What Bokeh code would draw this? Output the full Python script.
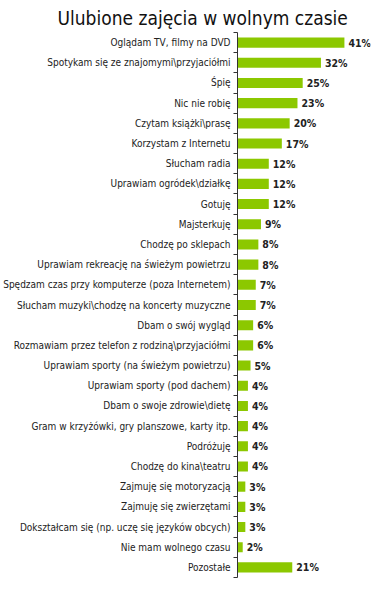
from bokeh.plotting import figure
from bokeh.models import ColumnDataSource, FixedTicker, Range1d
from bokeh.core.properties import value
from bokeh.embed import file_html
from bokeh.resources import INLINE

categories = [
    "Oglądam TV, filmy na DVD",
    "Spotykam się ze znajomymi\\przyjaciółmi",
    "Śpię",
    "Nic nie robię",
    "Czytam książki\\prasę",
    "Korzystam z Internetu",
    "Słucham radia",
    "Uprawiam ogródek\\działkę",
    "Gotuję",
    "Majsterkuję",
    "Chodzę po sklepach",
    "Uprawiam rekreację na świeżym powietrzu",
    "Spędzam czas przy komputerze (poza Internetem)",
    "Słucham muzyki\\chodzę na koncerty muzyczne",
    "Dbam o swój wygląd",
    "Rozmawiam przez telefon z rodziną\\przyjaciółmi",
    "Uprawiam sporty (na świeżym powietrzu)",
    "Uprawiam sporty (pod dachem)",
    "Dbam o swoje zdrowie\\dietę",
    "Gram w krzyżówki, gry planszowe, karty itp.",
    "Podróżuję",
    "Chodzę do kina\\teatru",
    "Zajmuję się motoryzacją",
    "Zajmuję się zwierzętami",
    "Dokształcam się (np. uczę się języków obcych)",
    "Nie mam wolnego czasu",
    "Pozostałe",
]
values = [41, 32, 25, 23, 20, 17, 12, 12, 12, 9, 8, 8, 7, 7, 6, 6, 5, 4, 4, 4, 4, 4, 3, 3, 3, 2, 21]

n = len(categories)
pos = list(range(n))
labels = [f"{v}%" for v in values]

FONT = "DejaVu Sans Condensed"

src = ColumnDataSource(dict(y=pos, v=values, lab=labels))

p = figure(width=372, height=583, output_backend="svg", toolbar_location=None,
           x_range=Range1d(0, 51), y_range=Range1d(n - 0.5, -0.5),
           min_border_left=232, min_border_right=2, min_border_top=32,
           min_border_bottom=6, outline_line_color=None,
           title="Ulubione zajęcia w  wolnym czasie")

p.title.text_font = FONT
p.title.text_font_size = "19px"
p.title.text_font_style = "normal"
p.title.text_color = "#111111"
p.title.align = "left"
p.title.offset = -180
p.title.standoff = 8

p.hbar(y="y", right="v", left=0, height=0.5, source=src,
       fill_color="#8CC800", line_color=None)
p.text(x="v", y="y", text="lab", source=src, x_offset=4,
       text_font=value(FONT), text_font_size="10.5px", text_font_style="bold",
       text_color="#222222", text_baseline="middle", text_align="left")

p.xaxis.visible = False
p.grid.visible = False

ya = p.yaxis[0]
ya.ticker = FixedTicker(ticks=pos, minor_ticks=[i - 0.5 for i in range(n + 1)])
ya.major_label_overrides = {i: c for i, c in zip(pos, categories)}
ya.major_tick_line_color = None
ya.major_tick_out = 0
ya.major_tick_in = 0
ya.minor_tick_out = 4
ya.minor_tick_in = 0
ya.minor_tick_line_color = "#333333"
ya.axis_line_color = "#333333"
ya.major_label_standoff = 3
ya.major_label_text_font = FONT
ya.major_label_text_font_size = "10px"
ya.major_label_text_color = "#222222"

open("out.html", "w").write(file_html(p, INLINE))
